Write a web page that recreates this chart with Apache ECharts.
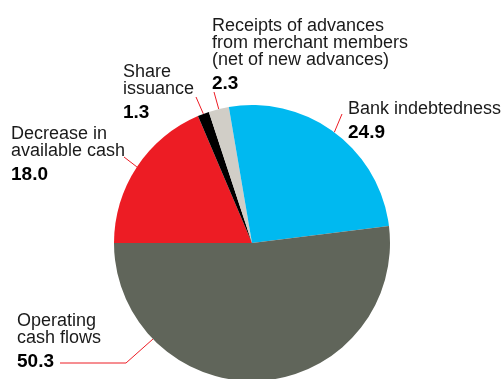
<!DOCTYPE html>
<html>
<head>
<meta charset="utf-8">
<script src="https://cdn.jsdelivr.net/npm/echarts@6/dist/echarts.min.js"></script>
<style>
  html, body { margin: 0; padding: 0; background: #fff; }
  #chart { width: 502px; height: 379px; }
</style>
</head>
<body>
<div id="chart"></div>
<script>
const categories = ['Decrease in\navailable cash', 'Share\nissuance', 'Receipts of advances\nfrom merchant members\n(net of new advances)', 'Bank indebtedness', 'Operating\ncash flows']
const values = [18.0, 1.3, 2.3, 24.9, 50.3]
const colors = ['#ED1C24', '#000000', '#D1CEC7', '#00B9F0', '#60655A']

// where each label sits (top-left) and where its leader line ends
const labelSpots = [
  { x: 11, y: 126, end: [124, 157] },
  { x: 123, y: 64, end: [196, 97] },
  { x: 212, y: 18, end: [214, 92] },
  { x: 348, y: 101, end: [342, 114] },
  { x: 17, y: 313, from: [153, 339], bend: [126, 363], end: [60, 363] }
]

const myChart = echarts.init(document.getElementById('chart'))

const option = {
  animation: false,
  series: [{
    type: 'pie',
    center: [252, 243],
    radius: 138,
    startAngle: 180,
    clockwise: true,
    avoidLabelOverlap: false,
    silent: true,
    data: categories.map((name, i) => ({
      name: name,
      value: values[i],
      itemStyle: { color: colors[i] }
    })),
    label: {
      show: true,
      position: 'outside',
      color: '#1a1a1a',
      formatter(params) {
        const lines = params.name.split('\n').map(s => '{n|' + s + '}')
        return lines.join('\n') + '\n{v|' + params.value.toFixed(1) + '}'
      },
      rich: {
        n: { fontFamily: 'Liberation Sans', fontSize: 18, lineHeight: 17, color: '#1a1a1a' },
        v: { fontFamily: 'Liberation Sans', fontSize: 19, fontWeight: 'bold', lineHeight: 29, color: '#000' }
      }
    },
    labelLine: {
      show: true,
      length: 10,
      length2: 10,
      lineStyle: { color: '#ED1C24', width: 1 }
    },
    labelLayout(params) {
      const spot = labelSpots[params.dataIndex]
      const start = spot.from || (params.labelLinePoints ? params.labelLinePoints[0] : spot.end)
      const pts = [start]
      if (spot.bend) pts.push(spot.bend)
      pts.push(spot.end)
      return {
        x: spot.x,
        y: spot.y,
        align: 'left',
        verticalAlign: 'top',
        labelLinePoints: pts
      }
    }
  }]
}
myChart.setOption(option)
</script>
</body>
</html>
